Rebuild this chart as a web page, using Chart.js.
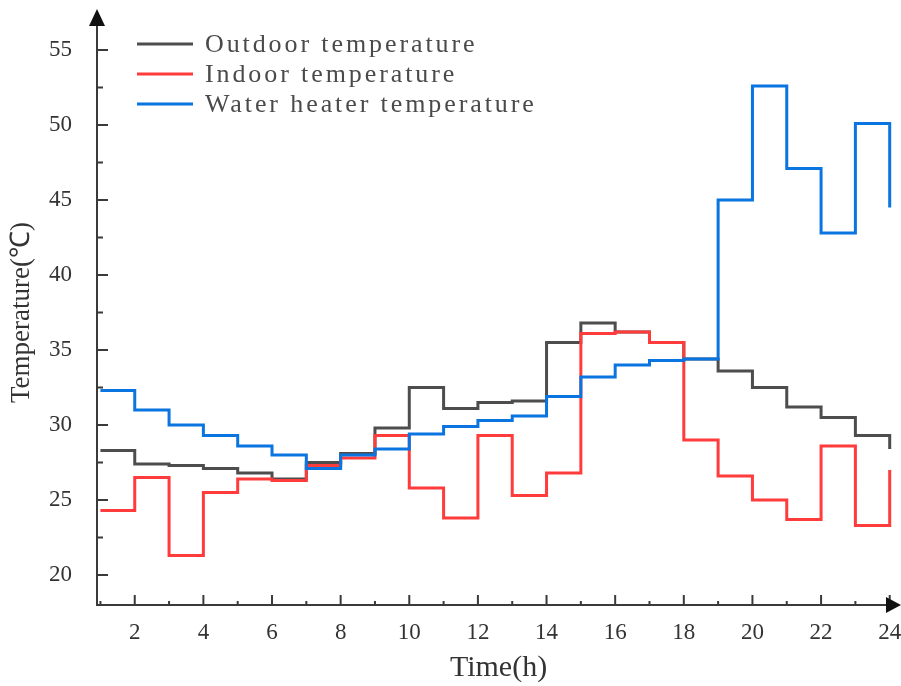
<!DOCTYPE html>
<html>
<head>
<meta charset="utf-8">
<script src="https://cdn.jsdelivr.net/npm/chart.js@4"></script>
<style>
  html, body { margin: 0; padding: 0; background: #fff; }
  #wrap { width: 901px; height: 686px; }
</style>
</head>
<body>
<div id="wrap"><canvas id="temp-chart" width="901" height="686"></canvas></div>
<script>
'use strict';

// hourly values, one step per hour
var hours = [1, 2, 3, 4, 5, 6, 7, 8, 9, 10, 11, 12, 13, 14, 15, 16, 17, 18, 19, 20, 21, 22, 23, 24];
var outdoorTemp = [28.3, 27.4, 27.3, 27.1, 26.8, 26.4, 27.5, 28.1, 29.8, 32.5, 31.1, 31.5,
  31.6, 35.5, 36.8, 36.2, 35.5, 34.4, 33.6, 32.5, 31.2, 30.5, 29.3, 28.4];
var indoorTemp = [24.3, 26.5, 21.3, 25.5, 26.4, 26.3, 27.3, 27.8, 29.3, 25.8, 23.8, 29.3,
  25.3, 26.8, 36.1, 36.2, 35.5, 29.0, 26.6, 25.0, 23.7, 28.6, 23.3, 27.0];
var heaterTemp = [32.3, 31.0, 30.0, 29.3, 28.6, 28.0, 27.1, 28.0, 28.4, 29.4, 29.9, 30.3,
  30.6, 31.9, 33.2, 34.0, 34.3, 34.4, 45.0, 52.6, 47.1, 42.8, 50.1, 44.5];

var seriesNames = ['Outdoor temperature', 'Indoor temperature', 'Water heater temperature'];
var seriesColors = ['#4d4d4d', '#ff3b3b', '#0a74e0'];
var xTickValues = [2, 4, 6, 8, 10, 12, 14, 16, 18, 20, 22, 24];
var yTickValues = [20, 25, 30, 35, 40, 45, 50, 55];

function toPoints(values) {
  return hours.map(function(h, i) {
    return { x: h, y: values[i] };
  });
}

function makeSeries(idx, values, order) {
  return {
    label: seriesNames[idx],
    data: toPoints(values),
    borderColor: seriesColors[idx],
    backgroundColor: seriesColors[idx],
    borderWidth: 3,
    stepped: true,
    pointRadius: 0,
    fill: false,
    order: order
  };
}

function noScalePadding(s) {
  s.paddingTop = 0;
  s.paddingBottom = 0;
  s.paddingLeft = 0;
  s.paddingRight = 0;
}

// axes with inward ticks and arrow heads
var axisArrows = {
  id: 'axisArrows',
  beforeDatasetsDraw: function(chart) {
    var ctx = chart.ctx;
    var area = chart.chartArea;
    var xs = chart.scales.x;
    var ys = chart.scales.y;
    var x0 = area.left;
    var y0 = area.bottom;
    ctx.save();
    ctx.strokeStyle = '#3a3a3a';
    ctx.fillStyle = '#111';
    ctx.lineWidth = 2;

    ctx.beginPath();
    ctx.moveTo(x0, y0 + 1);
    ctx.lineTo(x0, 22);
    ctx.moveTo(x0 - 1, y0);
    ctx.lineTo(889, y0);
    ctx.stroke();

    ctx.beginPath();
    for (var v = 20; v <= 55; v += 2.5) {
      var py = ys.getPixelForValue(v);
      ctx.moveTo(x0, py);
      ctx.lineTo(x0 + (v % 5 === 0 ? 11 : 6), py);
    }
    for (var h = 1; h <= 24; h++) {
      var px = xs.getPixelForValue(h);
      ctx.moveTo(px, y0);
      ctx.lineTo(px, y0 - (h % 2 === 0 ? 10 : 4));
    }
    ctx.stroke();

    ctx.beginPath();
    ctx.moveTo(x0, 9);
    ctx.lineTo(x0 - 8, 26);
    ctx.lineTo(x0 + 8, 26);
    ctx.closePath();
    ctx.moveTo(901, y0);
    ctx.lineTo(886, y0 - 8);
    ctx.lineTo(886, y0 + 8);
    ctx.closePath();
    ctx.fill();
    ctx.restore();
  }
};

// legend drawn inside the plot, top left
var insideLegend = {
  id: 'insideLegend',
  afterDraw: function(chart) {
    var ctx = chart.ctx;
    var rows = [44, 74, 104];
    ctx.save();
    chart.data.datasets.forEach(function(ds, i) {
      var y = rows[i];
      ctx.strokeStyle = ds.borderColor;
      ctx.lineWidth = 3;
      ctx.beginPath();
      ctx.moveTo(137, y);
      ctx.lineTo(193, y);
      ctx.stroke();

      ctx.fillStyle = '#4a4a4a';
      ctx.font = '26px "Liberation Serif", serif';
      ctx.letterSpacing = '2.9px';
      ctx.textBaseline = 'middle';
      ctx.fillText(ds.label, 205, y + 1);
    });
    ctx.restore();
  }
};

var ctx = document.getElementById('temp-chart').getContext('2d');

var chart = new Chart(ctx, {
  type: 'line',
  data: {
    datasets: [
      makeSeries(0, outdoorTemp, 3),
      makeSeries(1, indoorTemp, 2),
      makeSeries(2, heaterTemp, 1)
    ]
  },
  options: {
    responsive: false,
    animation: false,
    devicePixelRatio: 1,
    layout: {
      autoPadding: false,
      padding: { top: 20, right: 1, left: 0, bottom: 0 }
    },
    plugins: {
      legend: { display: false },
      tooltip: { enabled: false }
    },
    scales: {
      x: {
        type: 'linear',
        min: 0.9,
        max: 24.3,
        grid: { display: false, drawTicks: false },
        border: { display: false },
        afterBuildTicks: function(s) {
          s.ticks = xTickValues.map(function(v) { return { value: v }; });
        },
        afterFit: function(s) {
          s.height = 81;
          noScalePadding(s);
        },
        ticks: {
          autoSkip: false,
          maxRotation: 0,
          padding: 14,
          color: '#333',
          font: { family: '"Liberation Serif", serif', size: 23 }
        },
        title: {
          display: true,
          text: 'Time(h)',
          color: '#333',
          padding: 0,
          font: { family: '"Liberation Serif", serif', size: 30 }
        }
      },
      y: {
        min: 18,
        max: 57,
        grid: { display: false, drawTicks: false },
        border: { display: false },
        afterBuildTicks: function(s) {
          s.ticks = yTickValues.map(function(v) { return { value: v }; });
        },
        afterFit: function(s) {
          s.width = 97;
          noScalePadding(s);
        },
        ticks: {
          padding: 25,
          color: '#333',
          font: { family: '"Liberation Serif", serif', size: 23 }
        },
        title: {
          display: true,
          text: 'Temperature(℃)',
          color: '#333',
          padding: { top: 6, bottom: 0 },
          font: { family: '"Liberation Serif", serif', size: 27 }
        }
      }
    }
  },
  plugins: [axisArrows, insideLegend]
});
</script>
</body>
</html>
